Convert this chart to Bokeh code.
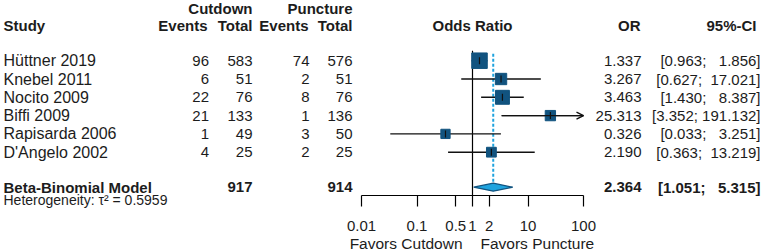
import numpy as np
from bokeh.plotting import figure
from bokeh.models import (ColumnDataSource, Range1d, LogScale, LogAxis, FixedTicker,
                          Arrow, OpenHead)
from bokeh.core.properties import value
from bokeh.embed import file_html
from bokeh.resources import INLINE

# ---------------- data ----------------
studies = ["Hüttner 2019", "Knebel 2011", "Nocito 2009", "Biffi 2009",
           "Rapisarda 2006", "D'Angelo 2002"]
cut_events = [96, 6, 22, 21, 1, 4]
cut_total = [583, 51, 76, 133, 49, 25]
punc_events = [74, 2, 8, 1, 3, 2]
punc_total = [576, 51, 76, 136, 50, 25]
odds_ratio = [1.337, 3.267, 3.463, 25.313, 0.326, 2.190]
ci_lower = [0.963, 0.627, 1.430, 3.352, 0.033, 0.363]
ci_upper = [1.856, 17.021, 8.387, 191.132, 3.251, 13.219]
weights = [28.2, 15.1, 22.8, 12.5, 10.1, 11.3]

model_name = "Beta-Binomial Model"
pooled_or = 2.364
pooled_lower = 1.051
pooled_upper = 5.315
tau2 = 0.5959

tick_values = [0.01, 0.1, 0.5, 1, 2, 10, 100]
tick_labels = ["0.01", "0.1", "0.5", "1", "2", "10", "100"]
favors_labels = ["Favors Cutdown", "Favors Puncture"]

# ---------------- layout constants ----------------
W, H = 762, 252
AXIS_Y = 195                 # axis line position (pixels from top)
OR_LEFT, OR_RIGHT = 361, 583 # pixel span of 0.01 .. 100
ppd = (OR_RIGHT - OR_LEFT) / 4.0
ROW0, STEP = 60.2, 18.3
HEAD1, HEAD2 = 7.5, 25.0
TOTAL_Y = 186.7
HET_Y = 199.5
FAV_Y = 243.0
FONT = "Liberation Sans"
FS = "15px"
TXT = "#1c1c1c"
SQ = "#11537f"
LIGHT = "#1fa3de"

n = len(studies)
ys = [ROW0 + i * STEP for i in range(n)]

p = figure(width=W, height=H, x_range=Range1d(0, W), y_range=Range1d(H, 0),
           output_backend="svg", toolbar_location=None, x_axis_type=None,
           y_axis_type=None, min_border=0)
p.outline_line_color = None
p.grid.visible = False
p.background_fill_color = "white"

or_lo = 10 ** (-2 - OR_LEFT / ppd)
or_hi = 10 ** (2 + (W - OR_RIGHT) / ppd)
p.extra_x_ranges = {"or": Range1d(or_lo, or_hi)}
p.extra_x_scales = {"or": LogScale()}

# ---------------- axis ----------------
ax = LogAxis(x_range_name="or", ticker=FixedTicker(ticks=tick_values),
             bounds=(tick_values[0], tick_values[-1]), fixed_location=AXIS_Y)
ax.major_label_overrides = {v: l for v, l in zip(tick_values, tick_labels)}
ax.axis_line_color = "black"
ax.axis_line_width = 1.2
ax.major_tick_line_color = "black"
ax.major_tick_line_width = 1.2
ax.major_tick_out = 11
ax.major_tick_in = 0
ax.minor_tick_line_color = None
ax.major_label_standoff = 14
ax.major_label_text_font = FONT
ax.major_label_text_font_size = FS
ax.major_label_text_color = TXT
p.add_layout(ax, "below")


def txt(x, y, texts, align="left", bold=False, size=FS, rng=None, xoff=0):
    src = ColumnDataSource(dict(x=x, y=y, t=texts))
    kw = {}
    if rng:
        kw["x_range_name"] = rng
    p.text(x="x", y="y", text="t", source=src, text_align=align,
           text_baseline="middle", text_font=value(FONT),
           text_font_size=value(size), text_color=TXT, x_offset=xoff,
           text_font_style="bold" if bold else "normal", **kw)


# ---------------- headers ----------------
txt([3], [HEAD2], ["Study"], "left", True)
txt([252, 352], [HEAD1, HEAD1], ["Cutdown", "Puncture"], "right", True)
txt([207, 252, 308, 352], [HEAD2] * 4, ["Events", "Total", "Events", "Total"], "right", True)
txt([1.0], [HEAD2], ["Odds Ratio"], "center", True, rng="or")
txt([640, 756], [HEAD2, HEAD2], ["OR", "95%-CI"], "right", True)

# ---------------- study table ----------------
txt([3] * n, ys, studies, "left", size="16px")
txt([208.5] * n, ys, [str(v) for v in cut_events], "right")
txt([252] * n, ys, [str(v) for v in cut_total], "right")
txt([309] * n, ys, [str(v) for v in punc_events], "right")
txt([352] * n, ys, [str(v) for v in punc_total], "right")


def ci_str(lo, up):
    u = f"{up:.3f}"
    return f"[{lo:.3f};" + "\u00a0" * (7 - len(u)) + " " + u + "]"


txt([641] * n, ys, [f"{v:.3f}" for v in odds_ratio], "right")
txt([760] * n, ys, [ci_str(a, b) for a, b in zip(ci_lower, ci_upper)], "right")

# totals row
txt([3], [TOTAL_Y], [model_name], "left", True)
txt([252, 352], [TOTAL_Y] * 2, [str(sum(cut_total)), str(sum(punc_total))], "right", True)
txt([641], [TOTAL_Y], [f"{pooled_or:.3f}"], "right", True)
txt([760], [TOTAL_Y], [ci_str(pooled_lower, pooled_upper)], "right", True)
txt([3], [HET_Y], [f"Heterogeneity: τ² = {tau2}"], "left", False, size="14px")

# favours labels under the axis
txt([1.0], [FAV_Y], [favors_labels[0]], "right", rng="or", xoff=-10, size="15.5px")
txt([1.0], [FAV_Y], [favors_labels[1]], "left", rng="or", xoff=8, size="15.5px")

# ---------------- forest ----------------
# null line
p.segment(x0=[1], x1=[1], y0=[ys[0] - 10], y1=[AXIS_Y], x_range_name="or",
          line_color="black", line_width=1.2)
# pooled estimate line
p.segment(x0=[pooled_or], x1=[pooled_or], y0=[ys[0] - 7], y1=[TOTAL_Y - 4],
          x_range_name="or", line_color=LIGHT, line_width=2, line_dash="3 2")

up_clip = [min(u, tick_values[-1]) for u in ci_upper]
sizes = [15.5 * np.sqrt(w / max(weights)) for w in weights]
fsrc = ColumnDataSource(dict(y=ys, est=odds_ratio, lo=ci_lower, up=up_clip, size=sizes))
p.segment(x0="lo", x1="up", y0="y", y1="y", source=fsrc, x_range_name="or",
          line_color="#111111", line_width=1.4)
p.scatter(x="est", y="y", size="size", marker="square", source=fsrc,
          x_range_name="or", fill_color=SQ, line_color=SQ)
p.scatter(x="est", y="y", size=7, marker="dash", angle=np.pi / 2, source=fsrc,
          x_range_name="or", line_color="#111111", line_width=1.2)

# arrows for truncated intervals
trunc = [i for i in range(n) if ci_upper[i] > tick_values[-1]]
if trunc:
    asrc = ColumnDataSource(dict(x0=[ci_lower[i] for i in trunc],
                                 x1=[tick_values[-1]] * len(trunc),
                                 y=[ys[i] for i in trunc]))
    p.add_layout(Arrow(x_start="x0", x_end="x1", y_start="y", y_end="y", source=asrc,
                       x_range_name="or", line_color="#111111", line_width=1.4,
                       end=OpenHead(size=7, line_color="#111111", line_width=1.4)))

# pooled diamond
dh = 4.0
p.patch(x=[pooled_lower, pooled_or, pooled_upper, pooled_or],
        y=[TOTAL_Y, TOTAL_Y - dh, TOTAL_Y, TOTAL_Y + dh], x_range_name="or",
        fill_color=LIGHT, line_color=SQ, line_width=1.2)

open("out.html", "w").write(file_html(p, INLINE))
